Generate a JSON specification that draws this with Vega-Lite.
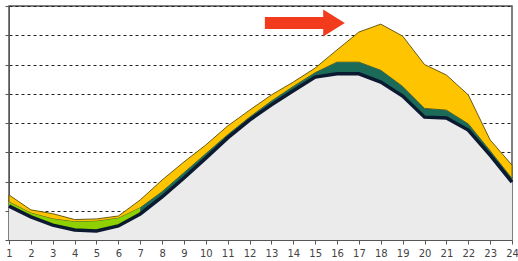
{
  "$schema": "https://vega.github.io/schema/vega-lite/v6.json",
  "width": 503,
  "height": 234,
  "autosize": {"type": "none"},
  "padding": {"left": 9, "top": 6, "right": 6, "bottom": 21},
  "background": "white",
  "config": {"view": {"stroke": "#555", "strokeWidth": 1.5}},
  "datasets": {
    "load": [
      {"x": 1, "base": 1.16, "green": 1.3, "top": 1.54},
      {"x": 2, "base": 0.79, "green": 0.92, "top": 1.03},
      {"x": 3, "base": 0.51, "green": 0.72, "top": 0.9},
      {"x": 4, "base": 0.34, "green": 0.62, "top": 0.7},
      {"x": 5, "base": 0.31, "green": 0.64, "top": 0.72},
      {"x": 6, "base": 0.48, "green": 0.74, "top": 0.82},
      {"x": 7, "base": 0.89, "green": 1.1, "top": 1.37},
      {"x": 8, "base": 1.47, "green": 1.65, "top": 2.05},
      {"x": 9, "base": 2.12, "green": 2.3, "top": 2.67},
      {"x": 10, "base": 2.8, "green": 2.95, "top": 3.25},
      {"x": 11, "base": 3.49, "green": 3.6, "top": 3.9},
      {"x": 12, "base": 4.1, "green": 4.2, "top": 4.44},
      {"x": 13, "base": 4.62, "green": 4.75, "top": 4.96},
      {"x": 14, "base": 5.1, "green": 5.25, "top": 5.4},
      {"x": 15, "base": 5.57, "green": 5.72, "top": 5.88},
      {"x": 16, "base": 5.68, "green": 6.08, "top": 6.5},
      {"x": 17, "base": 5.68, "green": 6.08, "top": 7.11},
      {"x": 18, "base": 5.4, "green": 5.8, "top": 7.38},
      {"x": 19, "base": 4.92, "green": 5.25, "top": 6.97},
      {"x": 20, "base": 4.2, "green": 4.5, "top": 6.0},
      {"x": 21, "base": 4.17, "green": 4.44, "top": 5.64},
      {"x": 22, "base": 3.76, "green": 3.97, "top": 4.96},
      {"x": 23, "base": 2.9, "green": 3.05, "top": 3.42},
      {"x": 24, "base": 1.98, "green": 2.1, "top": 2.56}
    ],
    "arrow": [
      {"x": 12.7, "x2": 15.5, "y": 7.42, "hx": 15.86}
    ]
  },
  "encoding": {
    "x": {"type": "quantitative", "scale": {"domain": [1, 24], "nice": false},
      "axis": {"tickCount": 23, "title": null, "grid": false, "domainColor": "#555", "tickColor": "#555", "tickSize": 4, "labelFontSize": 10, "labelColor": "#444", "labelFont": "DejaVu Sans", "labelPadding": 4, "labelFlush": false, "labelOverlap": false}},
    "y": {"type": "quantitative", "scale": {"domain": [0, 8], "nice": false},
      "axis": {"tickCount": 8, "title": null, "labels": false, "tickSize": 4, "tickColor": "#555", "domainColor": "#555", "grid": true, "gridColor": "#222", "gridDash": [3, 3], "gridWidth": 1}}
  },
  "layer": [
    {
      "data": {"name": "load"},
      "mark": {"type": "area", "color": "#ffc400", "stroke": "#6b5a10", "strokeWidth": 1},
      "encoding": {
        "x": {"field": "x"},
        "y": {"field": "top"},
        "y2": {"field": "green"}
      }
    },
    {
      "data": {"name": "load"},
      "mark": {"type": "area", "color": "#1c6b58"},
      "encoding": {
        "x": {"field": "x"},
        "y": {"field": "green"},
        "y2": {"field": "base"}
      }
    },
    {
      "data": {"name": "load"},
      "transform": [{"filter": "datum.x <= 7"}],
      "mark": {"type": "area", "color": "#8fd000"},
      "encoding": {
        "x": {"field": "x"},
        "y": {"field": "green"},
        "y2": {"field": "base"}
      }
    },
    {
      "data": {"name": "load"},
      "mark": {"type": "area", "color": "#ebebeb"},
      "encoding": {
        "x": {"field": "x"},
        "y": {"field": "base"}
      }
    },
    {
      "data": {"name": "load"},
      "mark": {"type": "line", "color": "#0b1a30", "strokeWidth": 3.5},
      "encoding": {
        "x": {"field": "x"},
        "y": {"field": "base"}
      }
    },
    {
      "data": {"name": "arrow"},
      "mark": {"type": "rule", "color": "#f23b1c", "strokeWidth": 12},
      "encoding": {
        "x": {"field": "x"},
        "x2": {"field": "x2"},
        "y": {"field": "y"}
      }
    },
    {
      "data": {"name": "arrow"},
      "mark": {"type": "point", "filled": true, "color": "#f23b1c", "opacity": 1, "shape": "M-0.8,-1 L0.8,0 L-0.8,1 Z", "size": 729},
      "encoding": {
        "x": {"field": "hx"},
        "y": {"field": "y"}
      }
    }
  ]
}
